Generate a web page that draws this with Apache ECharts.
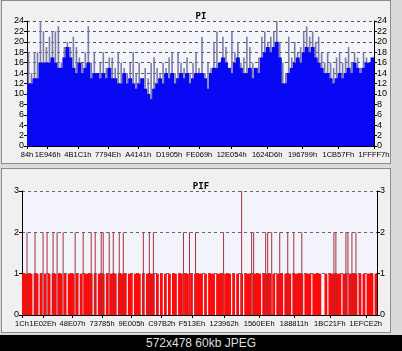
<!DOCTYPE html>
<html>
<head>
<meta charset="utf-8">
<script src="https://cdn.jsdelivr.net/npm/echarts@6/dist/echarts.min.js"></script>
<style>
  html, body { margin: 0; padding: 0; }
  body { width: 402px; height: 351px; background: #dadada; position: relative; overflow: hidden; }
  .panel { position: absolute; left: 1px; width: 388px; background: #f0f0f0; border: 1px solid #8c8c8c; }
  #p1 { top: 0; height: 162px; }
  #p2 { top: 168px; height: 163px; }
  #chart { position: absolute; left: 0; top: 0; width: 402px; height: 335px; }
  #foot { position: absolute; left: 0; top: 335px; width: 402px; height: 16px; background: #000;
          color: #dedede; font: 12px 'Liberation Sans', Arial, sans-serif; line-height: 16px; text-align: center; }
</style>
</head>
<body>
<div class="panel" id="p1"></div>
<div class="panel" id="p2"></div>
<div id="chart"></div>
<div id="foot">572x478 60kb JPEG</div>
<script>
// PI: per column, solid (blue) level and peak level
const piBase = [12,12,13,13,16,16,16,16,17,16,15,15,17,19,17,15,14,16,14,15,
  16,13,14,14,13,14,13,15,13,13,12,12,14,12,13,12,11,12,13,11,
  10,9,11,12,13,12,14,13,14,12,13,14,13,14,12,13,14,14,14,13,
  11,14,15,15,16,17,16,15,14,16,17,15,14,14,15,13,15,14,17,18,
  19,18,19,20,17,12,12,14,15,16,17,16,18,19,18,19,17,16,15,14,
  14,13,12,13,14,13,14,15,14,16,15,14,15,16,16,17];
const piPeak = [18,14,18,18,24,22,19,21,22,22,23,16,19,20,19,21,19,17,16,18,
  23,16,18,14,16,18,15,17,17,15,18,16,15,14,16,18,14,16,13,15,
  13,16,17,15,14,16,15,17,18,14,18,16,15,17,14,16,18,15,21,14,
  16,15,20,22,16,21,19,14,22,18,20,16,17,21,19,16,13,17,21,22,
  20,21,22,24,20,16,14,21,17,20,18,19,22,23,21,22,20,21,18,16,
  18,16,15,17,18,16,17,19,16,18,17,15,18,17,16,17];
const piTicks = ['84h','1E946h','4B1C1h','7794Eh','A4141h','D1905h','FE069h','12E054h','1624D6h','196799h','1CB57Fh','1FFFF7h'];

// PIF: per column, base level and isolated peaks
const pifBase = [1,1,1,1,1,0,1,1,0,1,0,1,0,1,0,1,1,0,1,1,
  0,1,0,1,1,1,0,1,0,1,0,1,1,1,1,0,1,0,1,1,
  1,0,1,0,1,1,1,0,1,1,1,1,0,1,1,0,1,1,1,0,
  1,0,1,1,1,1,0,1,0,1,0,1,0,1,0,1,1,0,1,1,
  0,1,1,0,1,0,1,1,1,1,0,1,0,1,1,1,0,1,1,1,
  0,1,1,1,0,1,0,1,0,1,0,1,1,1,0,1,1,1,1,0,
  1,1,1,1,0,1,0,1,1,1,0,1,1,1,0,1,1,1,1,1,
  0,1,1,1,0,1,1,1,1,0,0,1,0,1,1,1,1,1,1,0,
  1,1,0,1,1,1,1,0,1,0,1,0,1,1,1,0,1];
const pifPeak = [0,0,2,0,0,0,2,0,0,0,2,0,2,0,0,2,0,2,0,0,
  2,0,0,0,0,0,2,0,0,0,2,0,0,0,2,0,2,0,0,2,
  2,0,0,2,0,2,0,0,2,0,2,0,0,0,0,0,0,0,0,0,
  2,0,0,2,0,2,0,0,0,0,0,0,0,0,0,0,0,0,0,0,
  2,0,0,2,0,0,2,0,0,0,0,0,0,0,0,0,0,0,0,0,
  2,0,0,0,0,0,0,0,0,3,0,0,0,0,2,2,0,0,0,0,
  0,2,2,0,2,0,0,0,2,0,0,0,2,0,0,2,0,0,0,2,
  0,0,0,0,0,0,0,0,0,0,0,0,0,0,0,2,2,0,0,0,
  0,2,2,0,2,0,2,0,0,0,0,0,0,0,0,0,0];
const pifTicks = ['1Ch','1E02Eh','48E07h','73785h','9E005h','C97B2h','F513Eh','123962h','1560EEh','188811h','1BC21Fh','1EFCE2h'];

const chart = echarts.init(document.getElementById('chart'));
const font = "'Liberation Sans', sans-serif";
const idx = n => Array.from({ length: n }, (_, i) => i);
const hex = v => v.toString(16).toUpperCase() + 'h';

function yAxes (grid, max, gridLines) {
  const base = {
    gridIndex: grid, type: 'value', min: 0, max: max, interval: max > 3 ? 2 : 1,
    axisLine: { show: true, lineStyle: { color: '#000' } },
    axisTick: { show: true, length: 3, lineStyle: { color: '#000' } },
    axisLabel: { color: '#000', fontSize: 9, fontFamily: font, margin: 3 }
  };
  return [
    Object.assign({}, base, { position: 'left', splitLine: { show: true, lineStyle: { color: gridLines, type: [3, 3] } } }),
    Object.assign({}, base, { position: 'right', splitLine: { show: false } })
  ];
}

function xAxes (grid, n, ticks, min, max) {
  const vals = ticks.map(s => parseInt(s, 16));
  return [
    { gridIndex: grid, type: 'category', data: idx(n), show: false },
    { gridIndex: grid, type: 'category', data: idx(n), show: false },
    {
      gridIndex: grid, type: 'value', min: min, max: max, position: 'bottom',
      axisLine: { show: true, lineStyle: { color: '#000' } },
      axisTick: { show: true, length: 3, customValues: vals, lineStyle: { color: '#000' } },
      axisLabel: { color: '#000', fontSize: 7.5, fontFamily: font, margin: 5, customValues: vals, formatter: hex,
        showMinLabel: true, showMaxLabel: true, hideOverlap: false },
      splitLine: { show: false }
    }
  ];
}

chart.setOption({
  animation: false,
  title: [
    { text: 'PI', left: 'center', top: 7, textStyle: { fontSize: 9, fontWeight: 'bold', fontFamily: 'DejaVu Sans Mono', color: '#000' } },
    { text: 'PIF', left: 'center', top: 177, textStyle: { fontSize: 9, fontWeight: 'bold', fontFamily: 'DejaVu Sans Mono', color: '#000' } }
  ],
  grid: [
    { left: 27, right: 28, top: 21, height: 125, show: true, backgroundColor: '#f4f4fb', borderWidth: 0 },
    { left: 22, right: 25, top: 191, height: 124, show: true, backgroundColor: '#f3f3fc', borderWidth: 0 }
  ],
  xAxis: xAxes(0, piBase.length, piTicks, 132, 2097143).concat(xAxes(1, pifBase.length, pifTicks, 28, 2097143)),
  yAxis: yAxes(0, 24, '#555').concat(yAxes(1, 3, '#666')),
  series: [
    { name: 'PI peak', type: 'bar', xAxisIndex: 1, yAxisIndex: 0, data: piPeak, barWidth: 1.6,
      itemStyle: { color: '#7c7ca8' } },
    { name: 'PI', type: 'bar', xAxisIndex: 0, yAxisIndex: 0, data: piBase, barWidth: 4,
      itemStyle: { color: '#0808f4' } },
    { name: 'PIF', type: 'bar', xAxisIndex: 3, yAxisIndex: 2, data: pifBase, barWidth: 2.8,
      itemStyle: { color: '#ff0a0a' } },
    { name: 'PIF peak', type: 'bar', xAxisIndex: 4, yAxisIndex: 2, data: pifPeak, barWidth: 1,
      itemStyle: { color: '#a5303a' } }
  ]
});
</script>
</body>
</html>
